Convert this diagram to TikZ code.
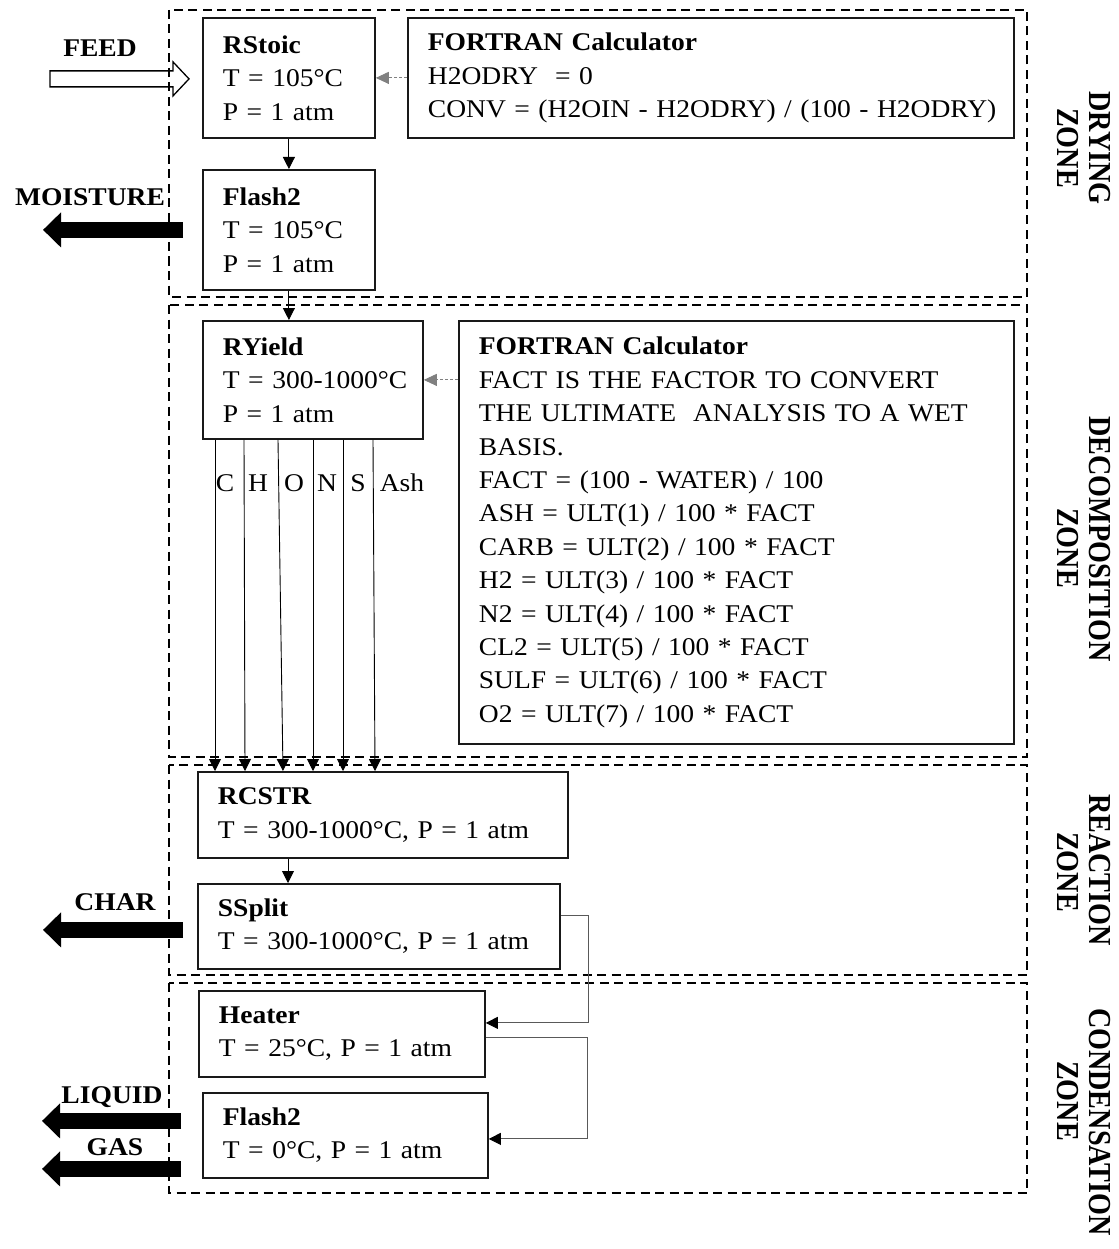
\documentclass[tikz,border=0pt]{standalone}
\usepackage{fontspec}
\setmainfont{Liberation Serif}[FakeStretch=1.08]
\newfontfamily\zonefont{Liberation Serif}[FakeStretch=0.88]
\usetikzlibrary{arrows.meta,calc}
\begin{document}
\begin{tikzpicture}[x=1pt,y=-1pt,
  every node/.style={font=\fontsize{25.5}{33.4}\selectfont},
  unit/.style={draw=black!90, line width=1.8pt, anchor=north west, inner xsep=20pt, inner ysep=0pt, align=left},
  zone/.style={draw, line width=1.8pt, dash pattern=on 9pt off 5.5pt},
  flow/.style={line width=0.9pt, -{Triangle[length=12pt,width=12pt]}},
  thinflow/.style={line width=0.9pt, draw=black!65, -{Triangle[length=12pt,width=12pt,fill=black,color=black]}},
  calcflow/.style={line width=0.9pt, draw=gray, densely dashed, -{Triangle[length=13pt,width=12pt,fill=gray,color=gray]}},
  block/.style={line width=16pt, -{Triangle[length=18pt,width=34pt]}},
  tag/.style={font=\fontsize{25.5}{30}\selectfont\bfseries, inner sep=0pt},
  zlabel/.style={font=\zonefont\bfseries\fontsize{32}{35}\selectfont, rotate=-90, anchor=base, inner sep=0pt},
]
\useasboundingbox (0,0) rectangle (1118,1249);

% zones
\draw[zone] (169,10) rectangle (1027,297);
\draw[zone] (169,305) rectangle (1027,757);
\draw[zone] (169,765) rectangle (1027,975);
\draw[zone] (169,983) rectangle (1027,1193);

% zone labels
\node[zlabel] (zl1a) at (1089,148) {DRYING};
\node[zlabel] (zl1b) at (1057,148) {ZONE};
\node[zlabel] (zl2a) at (1089,539) {DECOMPOSITION};
\node[zlabel] (zl2b) at (1057,548) {ZONE};
\node[zlabel] (zl3a) at (1089,870) {REACTION};
\node[zlabel] (zl3b) at (1057,872) {ZONE};
\node[zlabel] (zl4a) at (1089,1122) {CONDENSATION};
\node[zlabel] (zl4b) at (1057,1101) {ZONE};

% units
\node[unit, text width=132pt, minimum height=120pt] (rstoic) at (202,17)
  {\textbf{RStoic}\\\mbox{T = 105°C}\\P = 1 atm};
\node[unit, text width=566pt, minimum height=120pt] (fort1) at (407,17)
  {\textbf{FORTRAN Calculator}\\H2ODRY \ = 0\\\mbox{CONV = (H2OIN - H2ODRY) / (100 - H2ODRY)}};
\node[unit, text width=132pt, minimum height=120pt] (flasha) at (202,169)
  {\textbf{Flash2}\\\mbox{T = 105°C}\\P = 1 atm};
\node[unit, text width=180pt, minimum height=118pt] (ryield) at (202,320)
  {\textbf{RYield}\\\mbox{T = 300-1000°C}\\P = 1 atm};
\node[unit, text width=515pt, minimum height=423pt] (fort2) at (458,320)
  {\textbf{FORTRAN Calculator}\\
   \mbox{FACT IS THE FACTOR TO CONVERT}\\
   \mbox{THE ULTIMATE \ ANALYSIS TO A WET}\\
   BASIS.\\
   FACT = (100 - WATER) / 100\\
   ASH = ULT(1) / 100 * FACT\\
   CARB = ULT(2) / 100 * FACT\\
   H2 = ULT(3) / 100 * FACT\\
   N2 = ULT(4) / 100 * FACT\\
   CL2 = ULT(5) / 100 * FACT\\
   SULF = ULT(6) / 100 * FACT\\
   O2 = ULT(7) / 100 * FACT};
\node[unit, text width=330pt, minimum height=86pt] (rcstr) at (197,771)
  {\textbf{RCSTR}\\\mbox{T = 300-1000°C, P = 1 atm}};
\node[unit, text width=322pt, minimum height=85pt] (ssplit) at (197,883)
  {\textbf{SSplit}\\\mbox{T = 300-1000°C, P = 1 atm}};
\node[unit, text width=246pt, minimum height=86pt] (heater) at (198,990)
  {\textbf{Heater}\\\mbox{T = 25°C, P = 1 atm}};
\node[unit, text width=245pt, minimum height=85pt] (flashb) at (202,1092)
  {\textbf{Flash2}\\\mbox{T = 0°C, P = 1 atm}};

% internal connectors
\draw[flow] (rstoic.south) -- (flasha.north);
\draw[flow] (flasha.south) -- (flasha.south |- ryield.north);
\draw[calcflow] (fort1.west) -- (rstoic.east);
\draw[calcflow] (fort2.west |- ryield.east) -- (ryield.east);

\foreach \a/\b in {13/18, 42/48, 76/86, 111/116, 141/146, 171/178} {
  \draw[flow] ($(ryield.south west)+(\a,0)$) -- ($(rcstr.north west)+(\b,0)$);
}
\foreach \d/\l/\n in {23/C/c, 56/H/h, 92/O/o, 125/N/n, 156/S/s, 200/Ash/ash} {
  \node[anchor=base, inner sep=0pt] (lbl\n) at ($(ryield.south west)+(\d,52)$) {\l};
}

\coordinate (rs) at ($(rcstr.south west)+(91,0)$);
\draw[flow] (rs) -- (rs |- ssplit.north);

\coordinate (s1) at ($(ssplit.east)+(0,-10.5)$);
\coordinate (h1) at ($(heater.east)+(0,-11)$);
\draw[thinflow] (s1) -- ++(28,0) |- (h1);
\coordinate (h2) at ($(heater.east)+(0,4)$);
\coordinate (f1) at ($(flashb.east)+(0,3.5)$);
\draw[thinflow] (h2) -- ++(102,0) |- (f1);

% feed (hollow arrow)
\coordinate (feedtip) at ($(rstoic.west)+(-13,1)$);
\draw[line width=1.3pt, line join=miter] (feedtip) -- ++(-16,-17) -- ++(0,9) -- ++(-123,0)
  -- ++(0,16) -- ++(123,0) -- ++(0,9) -- cycle;
\node[tag] (feed) at (100,48) {FEED};

% product block arrows
\coordinate (moistend) at ($(flasha.west)+(-159,0)$);
\draw[block] ($(flasha.west)+(-19,0)$) -- (moistend);
\node[tag] (moist) at (90,197) {MOISTURE};

\coordinate (charend) at ($(ssplit.west)+(-154,3.5)$);
\draw[block] ($(ssplit.west)+(-14,3.5)$) -- (charend);
\node[tag] (char) at (115,902) {CHAR};

\coordinate (liqend) at ($(flashb.west)+(-160,-14.5)$);
\draw[block] ($(flashb.west)+(-21,-14.5)$) -- (liqend);
\node[tag] (liq) at (112,1097) {LIQUID};

\coordinate (gasend) at ($(flashb.west)+(-160,33.5)$);
\draw[block] ($(flashb.west)+(-21,33.5)$) -- (gasend);
\node[tag] (gas) at (115,1147) {GAS};
\end{tikzpicture}
\end{document}
